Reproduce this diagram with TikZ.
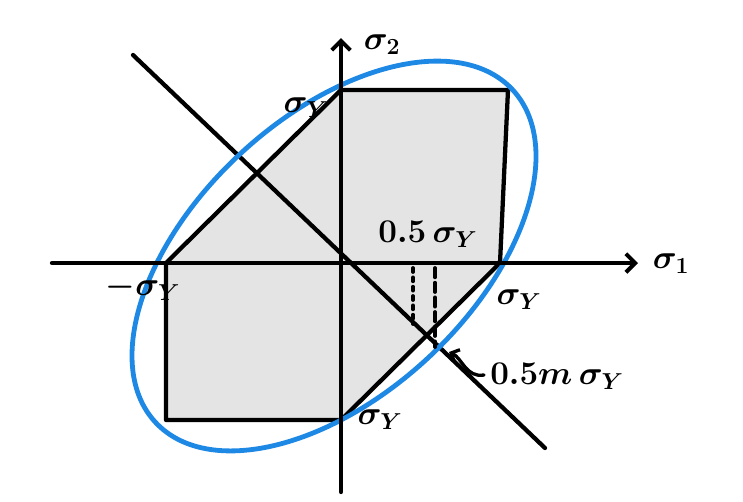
\documentclass[tikz,border=0pt]{standalone}
\usetikzlibrary{arrows.meta}
\definecolor{vmblue}{HTML}{1E88E5}
\definecolor{hexgray}{HTML}{E4E4E4}
\begin{document}
\begin{tikzpicture}[x=0.75pt,y=-0.75pt,
  ink/.style={line width=3.2pt,black,line cap=round,line join=round},
  axis/.style={ink,-{Straight Barb[length=7pt,width=14pt,line width=3pt]}},
  lbl/.style={font=\fontsize{25}{30}\selectfont\boldmath,inner sep=0pt}]
\useasboundingbox (0,0) rectangle (743,501);
% key points
\coordinate (O) at (341,263);
\coordinate (M) at (334,256);
\coordinate (A) at (341,90);
\coordinate (B) at (508,90);
\coordinate (C) at (500,263);
\coordinate (D) at (341,420);
\coordinate (E) at (166,420);
\coordinate (F) at (166,263);
\coordinate (x0) at (52,263);
\coordinate (x1) at (638,263);
\coordinate (y0) at (341,492);
\coordinate (y1) at (341,38);
\coordinate (d0) at (133,55);
\coordinate (d1) at (545,448);
\coordinate (p0) at (413,268);
\coordinate (p1) at (413,324);
\coordinate (q0) at (435,268);
\coordinate (q1) at (435,347);
\coordinate (r0) at (484,375);
\coordinate (r1) at (449,352);
% Tresca hexagon
\fill[hexgray] (A) -- (B) -- (C) -- (D) -- (E) -- (F) -- cycle;
% diagonal
\draw[ink] (d0) -- (d1);
% hexagon edges
\draw[ink] (A) -- (B) -- (C) -- (D) -- (E) -- (F) -- cycle;
% von Mises ellipse
\draw[vmblue,line width=3.6pt,rotate around={43:(M)}] (M) ellipse [x radius=183pt,y radius=104pt];
% axes
\draw[axis] (x0) -- (x1);
\draw[axis] (y0) -- (y1);
% dashed guides
\draw[ink,line width=2.8pt,dash pattern=on 3pt off 4pt] (p0) -- (p1);
\draw[ink,line width=2.8pt,dash pattern=on 7pt off 4pt] (q0) -- (q1);
% pointer arrow
\draw[ink,line width=2.5pt,-{Straight Barb[length=5pt,width=10pt,line width=2.5pt]}] (r0) .. controls (466,378) and (462,358) .. (r1);
% labels
\node[lbl] (s2) at (382,45) {$\sigma_2$};
\node[lbl] (s1) at (671,264) {$\sigma_1$};
\node[lbl] (syA) at (306,108) {$\sigma_Y$};
\node[lbl] (syF) at (143,287) {$-\sigma_Y$};
\node[lbl] (syC) at (519,300) {$\sigma_Y$};
\node[lbl] (syD) at (380,420) {$\sigma_Y$};
\node[lbl] (half) at (428,234) {$0.5\,\sigma_Y$};
\node[lbl] (half2) at (557,376) {$0.5m\,\sigma_Y$};
\end{tikzpicture}
\end{document}
